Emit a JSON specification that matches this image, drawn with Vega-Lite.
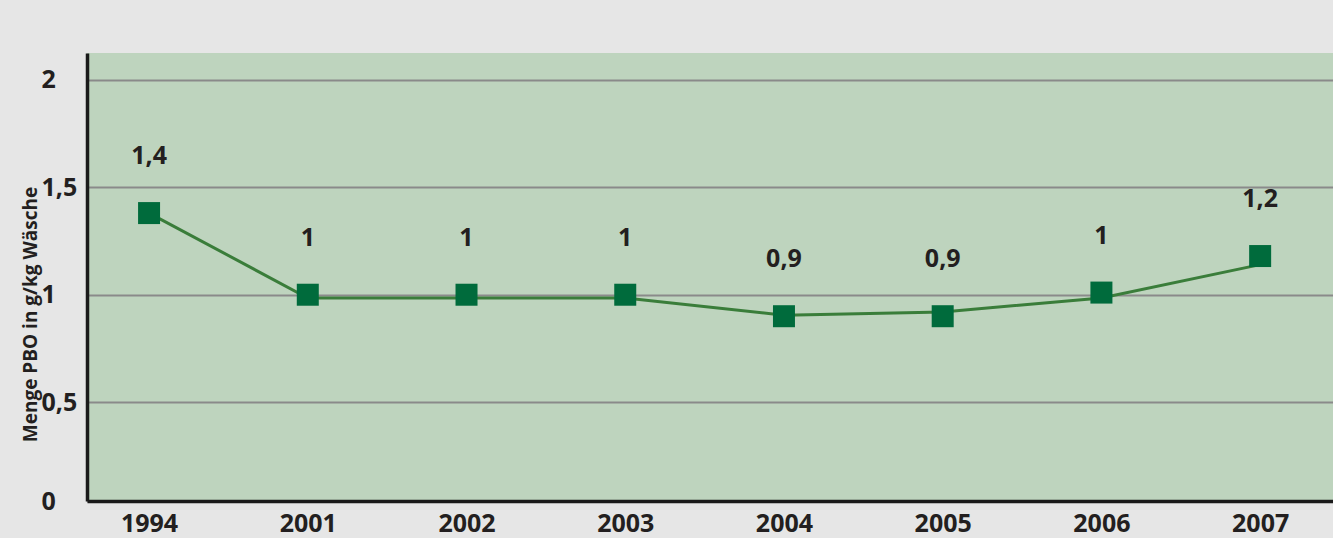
{
  "$schema": "https://vega.github.io/schema/vega-lite/v6.json",
  "autosize": {"type": "none"},
  "width": 1246,
  "height": 448,
  "padding": {"left": 87, "top": 53, "right": 0, "bottom": 37},
  "background": "#e6e6e6",
  "config": {
    "view": {"fill": "#bed4be", "stroke": null},
    "font": "Open Sans"
  },
  "data": {
    "values": [
      {"year": "1994", "value": 1.38, "line": 1.38, "label": "1,4"},
      {"year": "2001", "value": 1.0, "line": 0.985, "label": "1"},
      {"year": "2002", "value": 1.0, "line": 0.985, "label": "1"},
      {"year": "2003", "value": 1.0, "line": 0.985, "label": "1"},
      {"year": "2004", "value": 0.9, "line": 0.905, "label": "0,9"},
      {"year": "2005", "value": 0.9, "line": 0.92, "label": "0,9"},
      {"year": "2006", "value": 1.01, "line": 0.985, "label": "1"},
      {"year": "2007", "value": 1.18, "line": 1.14, "label": "1,2"}
    ]
  },
  "encoding": {
    "x": {
      "field": "year",
      "type": "ordinal",
      "scale": {"type": "point", "padding": 0.425, "align": 0.46},
      "axis": {
        "title": null,
        "labelAngle": 0,
        "labelFont": "Open Sans",
        "labelFontWeight": "bold",
        "labelFontSize": 25,
        "labelColor": "#231f20",
        "labelPadding": 10,
        "ticks": false,
        "domainColor": "#1a1a1a",
        "domainWidth": 3.5,
        "grid": false
      }
    }
  },
  "layer": [
    {
      "mark": {"type": "line", "color": "#3a7d3a", "strokeWidth": 3},
      "encoding": {
        "y": {
          "field": "line",
          "type": "quantitative",
          "scale": {"domain": [0.04, 2.125], "nice": false, "zero": false},
          "axis": {
            "title": "Menge PBO in g/kg Wäsche",
            "titleFont": "Open Sans",
            "titleFontWeight": "bold",
            "titleFontSize": 19,
            "titleColor": "#231f20",
            "titleAngle": -90,
            "titleX": -57,
            "titleY": 261,
            "titleAlign": "center",
            "titleBaseline": "middle",
            "values": [0.04, 0.5, 1, 1.5, 2],
            "labelExpr": "datum.value < 0.1 ? '0' : replace(format(datum.value, ''), '.', ',')",
            "labelAlign": "left",
            "labelPadding": 46,
            "labelDy": -5,
            "labelFont": "Open Sans",
            "labelFontWeight": "bold",
            "labelFontSize": 25,
            "labelColor": "#231f20",
            "ticks": false,
            "domainColor": "#1a1a1a",
            "domainWidth": 3.5,
            "gridColor": "#8a8a8a",
            "gridWidth": 2,
            "gridOpacity": 1
          }
        }
      }
    },
    {
      "mark": {"type": "point", "shape": "square", "filled": true, "size": 484, "color": "#006b3c", "opacity": 1},
      "encoding": {
        "y": {"field": "value", "type": "quantitative"}
      }
    },
    {
      "mark": {"type": "text", "dy": -57, "font": "Open Sans", "fontWeight": "bold", "fontSize": 25, "color": "#231f20", "baseline": "middle"},
      "encoding": {
        "y": {"field": "value", "type": "quantitative"},
        "text": {"field": "label"}
      }
    }
  ]
}
